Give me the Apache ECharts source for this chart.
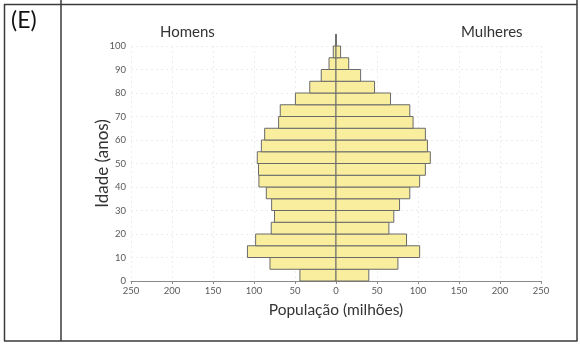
<!DOCTYPE html>
<html>
<head>
<meta charset="utf-8">
<style>
  html, body { margin: 0; padding: 0; background: #fff; }
  #chart { width: 580px; height: 345px; }
</style>
<script src="https://cdn.jsdelivr.net/npm/echarts@6/dist/echarts.min.js"></script>
</head>
<body>
<div id="chart"></div>
<script>
// Five-year age groups (start of each band, in years)
const ageStart = [0, 5, 10, 15, 20, 25, 30, 35, 40, 45, 50, 55, 60, 65, 70, 75, 80, 85, 90, 95, 100];
const bandSize = 5;
// Population per band, millions
const homens   = [44, 80.5, 108, 98, 79, 75, 78.5, 85, 94, 94.5, 96, 91, 87, 70, 68, 49.5, 32, 18, 8.5, 3.3, 0.4];
const mulheres = [40, 75.5, 102, 86, 64.5, 70.5, 77.5, 90, 102, 109, 115, 111.5, 109, 94, 90, 66.5, 47, 30, 15.5, 5.6, 0.4];
// Axis ticks
const xTicks = [-250, 250, 50];
const yTicks = [0, 100, 10];

const font = 'Lato, "Open Sans", sans-serif';

function renderBand(params, api) {
  const v = api.value(0);
  const a = api.value(1);
  const p0 = api.coord([0, a]);
  const p1 = api.coord([v, a + bandSize]);
  return {
    type: 'rect',
    shape: {
      x: Math.min(p0[0], p1[0]),
      y: p1[1],
      width: Math.abs(p1[0] - p0[0]),
      height: p0[1] - p1[1]
    },
    style: { fill: '#f8ee9e', stroke: '#6a6a6a', lineWidth: 1 }
  };
}

const chart = echarts.init(document.getElementById('chart'), null, { renderer: 'canvas' });

const tableLine = { stroke: '#3a3a3a', lineWidth: 1.5 };

chart.setOption({
  animation: false,
  grid: { left: 131, right: 39, top: 46, bottom: 64 },
  xAxis: {
    type: 'value',
    min: xTicks[0], max: xTicks[1], interval: xTicks[2],
    name: 'População (milhões)',
    nameLocation: 'middle',
    nameGap: 21,
    nameMoveOverlap: false,
    nameTextStyle: { fontFamily: font, fontSize: 15.5, color: '#333' },
    axisLine: { onZero: false, lineStyle: { color: '#8a8a8a', width: 1 } },
    axisTick: { show: true, length: 3, lineStyle: { color: '#8a8a8a' } },
    axisLabel: { fontFamily: font, fontSize: 9.5, color: '#595959', margin: 5,
                 formatter: v => String(Math.abs(v)) },
    splitLine: { show: true, lineStyle: { color: '#ececec', type: [2, 3], width: 1 } }
  },
  yAxis: {
    type: 'value',
    min: yTicks[0], max: yTicks[1], interval: yTicks[2],
    name: 'Idade (anos)',
    nameLocation: 'middle',
    nameGap: 20,
    nameMoveOverlap: false,
    nameRotate: 90,
    nameTextStyle: { fontFamily: font, fontSize: 17, color: '#333' },
    axisLine: { show: true, lineStyle: { color: '#8a8a8a', width: 1 } },
    axisTick: { show: true, length: 3, lineStyle: { color: '#8a8a8a' } },
    axisLabel: { fontFamily: font, fontSize: 9.5, color: '#595959', margin: 5 },
    splitLine: { show: true, lineStyle: { color: '#ececec', type: [2, 3], width: 1 } }
  },
  series: [
    {
      name: 'Homens',
      type: 'custom',
      clip: false,
      renderItem: renderBand,
      encode: { x: 0, y: 1 },
      data: ageStart.map((a, i) => [-homens[i], a])
    },
    {
      name: 'Mulheres',
      type: 'custom',
      clip: false,
      renderItem: renderBand,
      encode: { x: 0, y: 1 },
      data: ageStart.map((a, i) => [mulheres[i], a])
    }
  ],
  graphic: [
    { type: 'text', left: 160, top: 25, style: { text: 'Homens', font: '15px ' + font, fill: '#333' } },
    { type: 'text', left: 461, top: 25, style: { text: 'Mulheres', font: '15px ' + font, fill: '#333' } },
    { type: 'text', left: 11, top: 9, style: { text: '(E)', font: '23px ' + font, fill: '#111' } },
    // table frame around the chart
    { type: 'line', shape: { x1: 4, y1: 4.5, x2: 577, y2: 4.5 }, style: tableLine },
    { type: 'line', shape: { x1: 4.5, y1: 4, x2: 4.5, y2: 341 }, style: tableLine },
    { type: 'line', shape: { x1: 61, y1: 0, x2: 61, y2: 341 }, style: tableLine },
    { type: 'line', shape: { x1: 577, y1: 0, x2: 577, y2: 341 }, style: tableLine },
    { type: 'line', shape: { x1: 4, y1: 341, x2: 577.5, y2: 341 }, style: tableLine }
  ]
});
</script>
</body>
</html>
